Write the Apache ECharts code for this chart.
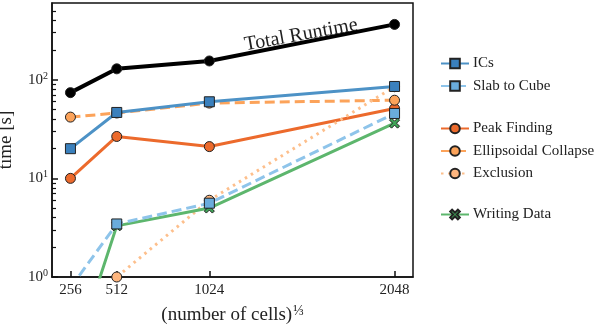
<!DOCTYPE html>
<html>
<head>
<meta charset="utf-8">
<script src="https://cdn.jsdelivr.net/npm/echarts@6/dist/echarts.min.js"></script>
<style>
  html, body { margin: 0; padding: 0; background: #fff; }
  #chart { width: 598px; height: 328px; }
</style>
</head>
<body>
<div id="chart"></div>
<script>
// cube root of number of cells
var cells = [256, 512, 1024, 2048];
var xTicks = [256, 512, 1024, 2048];
var yTicks = [1, 10, 100];
var yMinorTicks = [2, 3, 4, 5, 6, 7, 8, 9, 20, 30, 40, 50, 60, 70, 80, 90, 200, 300, 400, 500];

// timings in seconds
var totalRuntime = [74, 129, 155, 364];
var ics = [20, 46.6, 59.8, 85.5];
var slabToCube = [0.78, 3.45, 5.6, 45.5];
var peakFinding = [10.0, 26.6, 21.0, 51];
var ellipsoidalCollapse = [41.8, 46, 58, 62];
var exclusion = [0.5, 1.0, 6.0, 85];
var writingData = [0.12, 3.3, 5.0, 36.3];

var FONT = 'Liberation Serif';
var xSymbol = 'path://M2,0 L5,3 L8,0 L10,2 L7,5 L10,8 L8,10 L5,7 L2,10 L0,8 L3,5 L0,2 Z';

function pairs(vals) {
    return cells.map(function (c, i) { return [c, vals[i]]; });
}

function mkSeries(name, vals, lineColor, fillColor, symbol, dash, width) {
    return {
        name: name,
        type: 'line',
        data: pairs(vals),
        symbol: symbol,
        symbolSize: 10,
        showAllSymbol: true,
        clip: true,
        lineStyle: { color: lineColor, width: width || 3, type: dash || 'solid' },
        itemStyle: { color: fillColor, borderColor: '#222', borderWidth: 1 },
        emphasis: { disabled: true },
        animation: false
    };
}

var chart = echarts.init(document.getElementById('chart'));

var legendBase = {
    orient: 'vertical',
    left: 440,
    padding: 0,
    itemWidth: 28,
    itemHeight: 12,
    itemGap: 7.5,
    textStyle: { fontFamily: FONT, fontSize: 15, color: '#222', lineHeight: 14, padding: [0, 0, 0, -1] },
    selectedMode: false
};

var option = {
    backgroundColor: '#fff',
    grid: {
        left: 52, top: 3, right: 185, bottom: 51,
        show: true, borderColor: '#111', borderWidth: 1.5,
        containLabel: false,
        outerBoundsMode: 'none'
    },
    legend: [
        Object.assign({ top: 56, data: ['ICs', 'Slab to Cube'] }, legendBase),
        Object.assign({ top: 121, data: ['Peak Finding', 'Ellipsoidal Collapse', 'Exclusion'] }, legendBase),
        Object.assign({ top: 207, data: ['Writing Data'] }, legendBase)
    ],
    xAxis: {
        type: 'value',
        min: 154,
        max: 2150,
        name: '{a|(number of cells)}{f|⅓}',
        nameLocation: 'middle',
        nameGap: 27,
        nameTextStyle: {
            rich: {
                a: { fontFamily: FONT, fontSize: 19, color: '#222' },
                f: { fontFamily: FONT, fontSize: 14, color: '#222', verticalAlign: 'top', padding: [0, 0, 8, 1] }
            }
        },
        axisLine: { show: true, lineStyle: { color: '#111', width: 1.5 } },
        splitLine: { show: false },
        axisTick: { show: true, inside: true, length: 6, lineStyle: { color: '#111', width: 1.5 }, customValues: xTicks },
        axisLabel: {
            customValues: xTicks,
            formatter: function (v) { return String(v); },
            fontFamily: FONT, fontSize: 15, color: '#222', margin: 6
        }
    },
    yAxis: [{
        type: 'log',
        logBase: 10,
        min: 1,
        max: 600,
        name: 'time [s]',
        nameLocation: 'middle',
        nameGap: 36,
        nameTextStyle: { fontFamily: FONT, fontSize: 19, color: '#222' },
        axisLine: { show: true, lineStyle: { color: '#111', width: 1.5 } },
        splitLine: { show: false },
        axisTick: { show: true, inside: true, length: 6, lineStyle: { color: '#111', width: 1.5 }, customValues: yTicks },
        axisLabel: {
            customValues: yTicks,
            margin: 4,
            formatter: function (v) {
                return '{b|10}{e|' + Math.round(Math.log10(v)) + '}';
            },
            rich: {
                b: { fontFamily: FONT, fontSize: 15, color: '#222' },
                e: { fontFamily: FONT, fontSize: 10, color: '#222', verticalAlign: 'top', padding: [0, 0, 7, 0] }
            }
        }
    }, {
        // minor ticks only
        type: 'log',
        logBase: 10,
        min: 1,
        max: 600,
        position: 'left',
        offset: 0,
        axisLine: { show: false },
        splitLine: { show: false },
        axisLabel: { show: false },
        axisTick: { show: true, inside: true, length: 4, lineStyle: { color: '#111', width: 1.2 }, customValues: yMinorTicks }
    }],
    graphic: [{
        type: 'text',
        x: 301,
        y: 35,
        rotation: 10.2 * Math.PI / 180,
        style: {
            text: 'Total Runtime',
            fontFamily: FONT,
            fontSize: 20,
            fill: '#222',
            align: 'center',
            verticalAlign: 'middle'
        }
    }],
    series: [
        mkSeries('Total Runtime', totalRuntime, '#000', '#000', 'circle', 'solid', 4),
        mkSeries('Peak Finding', peakFinding, '#ec6a2c', '#ec6a2c', 'circle'),
        mkSeries('Ellipsoidal Collapse', ellipsoidalCollapse, '#fca35a', '#fca35a', 'circle', [10, 5]),
        mkSeries('Exclusion', exclusion, '#fdbf8c', '#fdb57e', 'circle', [2.5, 4.5]),
        mkSeries('Writing Data', writingData, '#5db66d', '#3fa457', xSymbol),
        mkSeries('ICs', ics, '#4d92c6', '#3a80bd', 'rect'),
        mkSeries('Slab to Cube', slabToCube, '#8ec4ea', '#6aacdc', 'rect', [10, 5])
    ]
};

chart.setOption(option);
</script>
</body>
</html>
